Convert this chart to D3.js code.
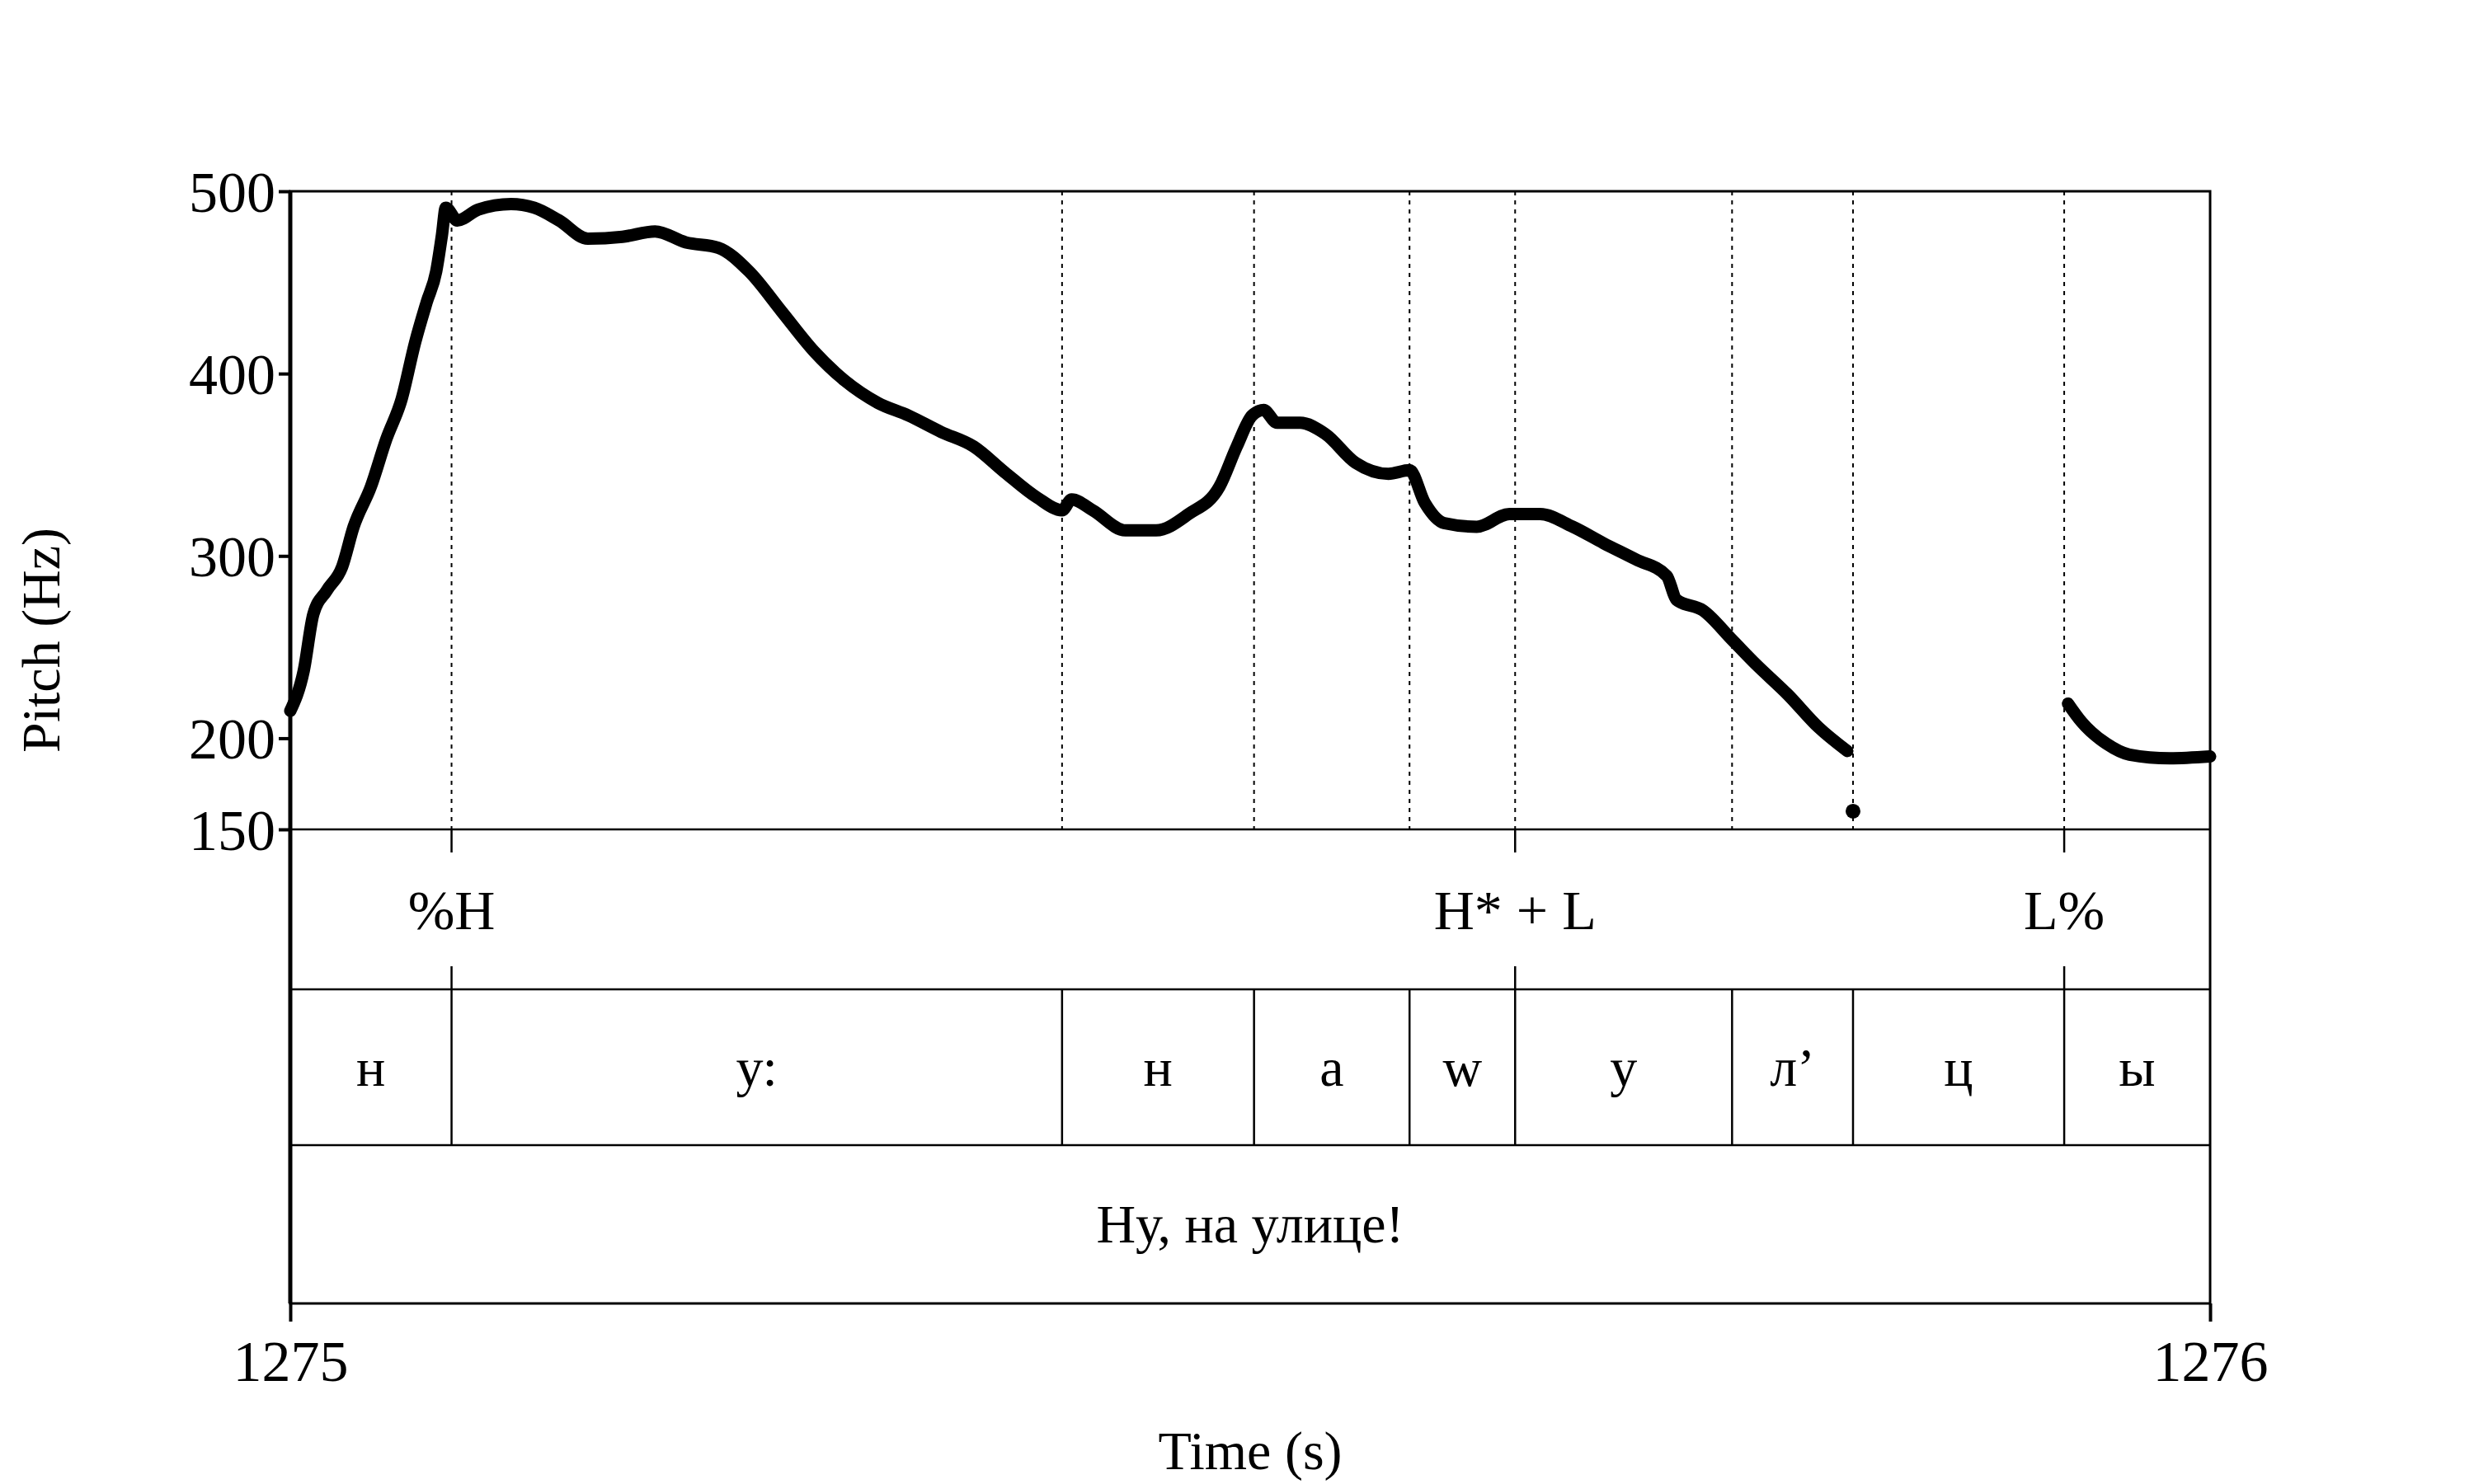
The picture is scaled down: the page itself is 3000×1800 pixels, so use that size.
<!DOCTYPE html>
<html><head><meta charset="utf-8">
<script src="https://cdn.jsdelivr.net/npm/d3@7"></script>
<style>body{margin:0;background:#fff}</style>
</head><body><div id="chart"></div>
<script>
// pitch track, [time offset from 1275 s, Hz]
var pitchA = [[0,215],[.007,237],[.012,268],[.019,281],[.027,294],[.033,316],[.042,338],[.050,364],[.058,386],[.065,417],[.071,439],[.076,456],[.079,476],[.081,491],[.087,484],[.098,490],[.115,493],[.127,491],[.140,484],[.155,474],[.173,475],[.190,478],[.206,472],[.223,469],[.239,456],[.256,434],[.273,412],[.289,396],[.306,384],[.322,377],[.339,368],[.356,360],[.372,346],[.389,332],[.402,325],[.407,331],[.418,325],[.435,314],[.451,314],[.468,323],[.484,338],[.493,360],[.501,377],[.507,380],[.514,373],[.526,373],[.539,367],[.555,351],[.572,345],[.583,347],[.591,329],[.601,318],[.618,316],[.635,323],[.651,323],[.668,316],[.684,307],[.701,298],[.717,289],[.722,276],[.736,270],[.751,254],[.763,241],[.780,224],[.796,206],[.811,193]];
var pitchDot = [[.814,160]];
var pitchB = [[.926,219],[.933,209],[.946,197],[.958,191],[.979,189],[1,190]];
var yTicks = [500,400,300,200,150];
var xTicks = [1275,1276];
var tones = [{t:.084,label:"%H"},{t:.638,label:"H* + L"},{t:.924,label:"L%"}];
var phoneBounds = [0,.084,.402,.502,.583,.638,.751,.814,.924,1];
var phones = ["н","у:","н","а","w","у","л’","ц","ы"];
var sentence = "Ну, на улице!";

var W=3000,H=1800, L=352, R=2680, T=232, P=1006, T1=1200, T2=1389, B=1581;
var font="'Liberation Serif','Times New Roman',serif";
var svg=d3.select("#chart").append("svg").attr("width",W).attr("height",H)
  .style("font-family",font);
var x=d3.scaleLinear().domain([0,1]).range([L,R]);
var y=d3.scaleLinear().domain([150,500]).range([P,T]);

// dotted boundary lines in pitch pane
svg.selectAll(".bd").data(phoneBounds.slice(1,-1)).enter().append("line")
  .attr("x1",d=>x(d)).attr("x2",d=>x(d)).attr("y1",T).attr("y2",P)
  .attr("stroke","#000").attr("stroke-width",2).attr("stroke-dasharray","5,6");

// pitch
var line=d3.line().x(d=>x(d[0])).y(d=>y(d[1])).curve(d3.curveMonotoneX);
[pitchA,pitchB].forEach(function(s){
  svg.append("path").attr("d",line(s)).attr("fill","none").attr("stroke","#000")
    .attr("stroke-width",15).attr("stroke-linecap","round").attr("stroke-linejoin","round");
});
svg.selectAll(".dot").data(pitchDot).enter().append("circle")
  .attr("cx",d=>x(d[0])).attr("cy",d=>y(d[1])).attr("r",9).attr("fill","#000");

// frame and tier lines
svg.append("rect").attr("x",L).attr("y",T).attr("width",R-L).attr("height",B-T)
  .attr("fill","none").attr("stroke","#000").attr("stroke-width",3);
[P,T1,T2].forEach(function(v){
  svg.append("line").attr("x1",L).attr("x2",R).attr("y1",v).attr("y2",v).attr("stroke","#000").attr("stroke-width",2.5);
});
svg.append("line").attr("x1",L).attr("x2",L).attr("y1",T).attr("y2",B).attr("stroke","#000").attr("stroke-width",5);

// y axis
var yg=svg.append("g").attr("transform","translate("+L+",0)")
  .call(d3.axisLeft(y).tickValues(yTicks).tickSize(14).tickPadding(4));
yg.select(".domain").remove();
yg.selectAll("line").attr("stroke-width",4);
yg.selectAll("text").style("font-size","70px").style("font-family",font).attr("dy","0.35em");
svg.append("text").attr("transform","translate(72,"+((T+B)/2-130)+") rotate(-90)")
  .attr("text-anchor","middle").style("font-size","66px").text("Pitch (Hz)");

// x axis
var xt=d3.scaleLinear().domain([1275,1276]).range([L,R]);
var xg=svg.append("g").attr("transform","translate(0,"+B+")")
  .call(d3.axisBottom(xt).tickValues(xTicks).tickFormat(d3.format("d")).tickSize(22).tickPadding(22));
xg.select(".domain").remove();
xg.selectAll("line").attr("stroke-width",4);
xg.selectAll("text").style("font-size","70px").style("font-family",font);
svg.append("text").attr("x",(L+R)/2).attr("y",1782).attr("text-anchor","middle")
  .style("font-size","66px").text("Time (s)");

// tone tier
tones.forEach(function(d){
  [[P,P+28],[T1-28,T1]].forEach(function(s){
    svg.append("line").attr("x1",x(d.t)).attr("x2",x(d.t)).attr("y1",s[0]).attr("y2",s[1]).attr("stroke","#000").attr("stroke-width",2.5);
  });
  svg.append("text").attr("x",x(d.t)).attr("y",(P+T1)/2+24).attr("text-anchor","middle")
    .style("font-size","68px").text(d.label);
});

// phone tier
phoneBounds.slice(1,-1).forEach(function(b){
  svg.append("line").attr("x1",x(b)).attr("x2",x(b)).attr("y1",T1).attr("y2",T2).attr("stroke","#000").attr("stroke-width",2.5);
});
svg.selectAll(".ph").data(phones).enter().append("text")
  .attr("x",(d,i)=>(x(phoneBounds[i])+x(phoneBounds[i+1]))/2).attr("y",(T1+T2)/2+22)
  .attr("text-anchor","middle").style("font-size","66px").text(d=>d);

// sentence tier
svg.append("text").attr("x",(L+R)/2).attr("y",(T2+B)/2+22).attr("text-anchor","middle")
  .style("font-size","66px").text(sentence);
</script></body></html>
